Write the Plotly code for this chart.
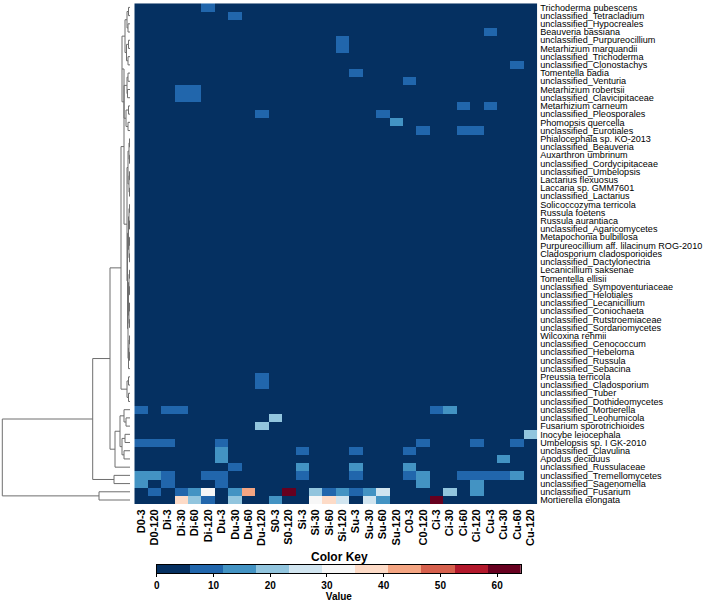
import plotly.graph_objects as go

# ---------------- data ----------------
taxa = [
    "Trichoderma pubescens", "unclassified_Tetracladium", "unclassified_Hypocreales",
    "Beauveria bassiana", "unclassified_Purpureocillium", "Metarhizium marquandii",
    "unclassified_Trichoderma", "unclassified_Clonostachys", "Tomentella badia",
    "unclassified_Venturia", "Metarhizium robertsii", "unclassified_Clavicipitaceae",
    "Metarhizium carneum", "unclassified_Pleosporales", "Phomopsis quercella",
    "unclassified_Eurotiales", "Phialocephala sp. KO-2013", "unclassified_Beauveria",
    "Auxarthron umbrinum", "unclassified_Cordycipitaceae", "unclassified_Umbelopsis",
    "Lactarius flexuosus", "Laccaria sp. GMM7601", "unclassified_Lactarius",
    "Solicoccozyma terricola", "Russula foetens", "Russula aurantiaca",
    "unclassified_Agaricomycetes", "Metapochonia bulbillosa",
    "Purpureocillium aff. lilacinum ROG-2010", "Cladosporium cladosporioides",
    "unclassified_Dactylonectria", "Lecanicillium saksenae", "Tomentella ellisii",
    "unclassified_Sympoventuriaceae", "unclassified_Helotiales", "unclassified_Lecanicillium",
    "unclassified_Coniochaeta", "unclassified_Rutstroemiaceae", "unclassified_Sordariomycetes",
    "Wilcoxina rehmii", "unclassified_Cenococcum", "unclassified_Hebeloma",
    "unclassified_Russula", "unclassified_Sebacina", "Preussia terricola",
    "unclassified_Cladosporium", "unclassified_Tuber", "unclassified_Dothideomycetes",
    "unclassified_Mortierella", "unclassified_Leohumicola", "Fusarium sporotrichioides",
    "Inocybe leiocephala", "Umbelopsis sp. I GK-2010", "unclassified_Clavulina",
    "Apodus deciduus", "unclassified_Russulaceae", "unclassified_Tremellomycetes",
    "unclassified_Sagenomella", "unclassified_Fusarium", "Mortierella elongata",
]

samples = [
    "D0-3", "D0-120", "Di-3", "Di-30", "Di-60", "Di-120", "Du-3", "Du-30", "Du-60", "Du-120",
    "S0-3", "S0-120", "Si-3", "Si-30", "Si-60", "Si-120", "Su-3", "Su-30", "Su-60", "Su-120",
    "C0-3", "C0-120", "Ci-3", "Ci-30", "Ci-60", "Ci-120", "Cu-3", "Cu-30", "Cu-60", "Cu-120",
]

# non-zero cells (taxon, sample, value); all other cells are ~0
cells = [
    ("Trichoderma pubescens", "Di-120", 9),
    ("unclassified_Tetracladium", "Du-30", 9),
    ("Beauveria bassiana", "Cu-3", 9),
    ("unclassified_Purpureocillium", "Si-120", 9),
    ("Metarhizium marquandii", "Si-120", 9),
    ("unclassified_Clonostachys", "Cu-60", 9),
    ("Tomentella badia", "Su-3", 9),
    ("unclassified_Venturia", "C0-3", 9),
    ("Metarhizium robertsii", "Di-30", 9), ("Metarhizium robertsii", "Di-60", 9),
    ("unclassified_Clavicipitaceae", "Di-30", 9), ("unclassified_Clavicipitaceae", "Di-60", 9),
    ("Metarhizium carneum", "Ci-60", 9), ("Metarhizium carneum", "Cu-3", 9),
    ("unclassified_Pleosporales", "Du-120", 9), ("unclassified_Pleosporales", "Su-60", 9),
    ("Phomopsis quercella", "Su-120", 14),
    ("unclassified_Eurotiales", "C0-120", 9), ("unclassified_Eurotiales", "Ci-60", 9),
    ("unclassified_Eurotiales", "Ci-120", 9),
    ("Preussia terricola", "Du-120", 9),
    ("unclassified_Cladosporium", "Du-120", 9),
    ("unclassified_Mortierella", "D0-3", 9), ("unclassified_Mortierella", "Di-3", 9),
    ("unclassified_Mortierella", "Di-30", 9), ("unclassified_Mortierella", "Ci-3", 9),
    ("unclassified_Mortierella", "Ci-30", 14),
    ("unclassified_Leohumicola", "S0-3", 20),
    ("Fusarium sporotrichioides", "Du-120", 20),
    ("Inocybe leiocephala", "Cu-120", 20),
    ("Umbelopsis sp. I GK-2010", "D0-3", 9), ("Umbelopsis sp. I GK-2010", "D0-120", 9),
    ("Umbelopsis sp. I GK-2010", "Di-3", 9), ("Umbelopsis sp. I GK-2010", "Du-3", 9),
    ("Umbelopsis sp. I GK-2010", "C0-120", 9), ("Umbelopsis sp. I GK-2010", "Ci-120", 9),
    ("Umbelopsis sp. I GK-2010", "Cu-60", 9),
    ("unclassified_Clavulina", "Du-3", 15), ("unclassified_Clavulina", "Si-3", 9),
    ("unclassified_Clavulina", "Su-3", 9), ("unclassified_Clavulina", "C0-3", 9),
    ("Apodus deciduus", "Du-3", 15), ("Apodus deciduus", "Cu-30", 15),
    ("unclassified_Russulaceae", "Du-30", 9), ("unclassified_Russulaceae", "Si-3", 15),
    ("unclassified_Russulaceae", "Su-3", 15), ("unclassified_Russulaceae", "C0-3", 15),
    ("unclassified_Tremellomycetes", "D0-3", 15), ("unclassified_Tremellomycetes", "D0-120", 15),
    ("unclassified_Tremellomycetes", "Di-3", 9), ("unclassified_Tremellomycetes", "Di-120", 9),
    ("unclassified_Tremellomycetes", "Du-3", 9), ("unclassified_Tremellomycetes", "Si-3", 9),
    ("unclassified_Tremellomycetes", "Su-3", 9), ("unclassified_Tremellomycetes", "C0-3", 9),
    ("unclassified_Tremellomycetes", "C0-120", 15), ("unclassified_Tremellomycetes", "Ci-60", 9),
    ("unclassified_Tremellomycetes", "Ci-120", 9), ("unclassified_Tremellomycetes", "Cu-3", 9),
    ("unclassified_Tremellomycetes", "Cu-30", 9), ("unclassified_Tremellomycetes", "Cu-60", 15),
    ("unclassified_Sagenomella", "D0-3", 15), ("unclassified_Sagenomella", "Di-3", 9),
    ("unclassified_Sagenomella", "Du-3", 9), ("unclassified_Sagenomella", "C0-120", 15),
    ("unclassified_Sagenomella", "Ci-120", 15),
    ("unclassified_Fusarium", "D0-120", 9), ("unclassified_Fusarium", "Di-30", 9),
    ("unclassified_Fusarium", "Di-60", 15), ("unclassified_Fusarium", "Di-120", 32),
    ("unclassified_Fusarium", "Du-30", 15), ("unclassified_Fusarium", "Du-60", 44),
    ("unclassified_Fusarium", "S0-120", 63), ("unclassified_Fusarium", "Si-30", 20),
    ("unclassified_Fusarium", "Si-60", 9), ("unclassified_Fusarium", "Si-120", 15),
    ("unclassified_Fusarium", "Su-3", 9), ("unclassified_Fusarium", "Su-30", 15),
    ("unclassified_Fusarium", "Su-60", 26), ("unclassified_Fusarium", "Ci-30", 20),
    ("unclassified_Fusarium", "Ci-120", 15),
    ("Mortierella elongata", "Di-30", 38), ("Mortierella elongata", "Di-60", 20),
    ("Mortierella elongata", "Di-120", 9), ("Mortierella elongata", "Du-30", 20),
    ("Mortierella elongata", "S0-3", 15), ("Mortierella elongata", "Si-30", 32),
    ("Mortierella elongata", "Si-60", 38), ("Mortierella elongata", "Si-120", 26),
    ("Mortierella elongata", "Su-30", 26), ("Mortierella elongata", "Su-60", 15),
    ("Mortierella elongata", "Ci-3", 64.2),
]

# row dendrogram: [height, left, right]; leaves are row indices (0 = top row)
T1 = [8, [5, [3, [1.5, 0, 1], [2, 2, 3]], [3.5, [1.5, 4, 5], [2, 6, 7]]],
         [6, [3, [2, 8, 9], [2.5, 10, 11]], [4, [1.5, 12, 13], [2, 14, 15]]]]
T2 = [3,
      [2, [1, [0.5, 16, 17], [0.5, 18, 19]], [1, [0.5, 20, 21], [0.5, 22, 23]]],
      [2.5, [1.5, [1, [0.5, 24, 25], [0.5, 26, 27]], [1, [0.5, 28, 29], [0.5, 30, 31]]],
            [2, [1.5, [1, [0.5, 32, 33], [0.5, 34, 35]], [1, [0.5, 36, 37], [0.5, 38, 39]]],
                [1.5, [1, [0.5, 40, 41], [0.5, 42, 43]], 44]]]]
T3 = [3, [1.5, 45, 46], [1.5, 47, 48]]
M = [15, [10, [6, 49, [4, 50, 51]], [8, [5, 52, 53], [6, 54, 55]]], 56]
row_dendrogram = [127.7, [37.3, [20, [9, [6, T1, T2], T3], M], [16, 57, 58]], [31, 59, 60]]

key_ticks = [0, 10, 20, 30, 40, 50, 60]
palette = ["#053061", "#2166ac", "#4393c3", "#92c5de", "#d1e5f0", "#f7f7f7",
           "#fddbc7", "#f4a582", "#d6604d", "#b2182b", "#67001f"]
zmin, zmax = 0, 64.2

# ---------------- build ----------------
W, H = 708, 607
hm_x0, hm_x1, hm_y0, hm_y1 = 134.3, 537.2, 3.3, 504.1   # pixel box of heatmap

z = [[0] * len(samples) for _ in taxa]
for t, s, v in cells:
    z[taxa.index(t)][samples.index(s)] = v

n = len(palette)
colorscale = []
for i, c in enumerate(palette):
    colorscale.append([i / n, c])
    colorscale.append([(i + 1) / n, c])

fig = go.Figure()
fig.add_trace(go.Heatmap(
    z=z, x=list(range(len(samples))), y=list(range(len(taxa))),
    colorscale=colorscale, zmin=zmin, zmax=zmax, showscale=False,
    xaxis="x", yaxis="y", hoverongaps=False))

# dendrogram lines
xs, ys = [], []
def walk(node):
    if isinstance(node, int):
        return 0.0, float(node)
    h, a, b = node
    ha, ya = walk(a)
    hb, yb = walk(b)
    xs.extend([ha, h, h, hb, None])
    ys.extend([ya, ya, yb, yb, None])
    return h, (ya + yb) / 2
walk(row_dendrogram)
fig.add_trace(go.Scatter(x=xs, y=ys, mode="lines", xaxis="x2", yaxis="y",
                         line=dict(color="#6e6e6e", width=1), hoverinfo="skip",
                         showlegend=False))

# color key
edges = [zmin + i * (zmax - zmin) / n for i in range(n + 1)]
mids = [(edges[i] + edges[i + 1]) / 2 for i in range(n)]
fig.add_trace(go.Heatmap(z=[mids], x=edges, y=[0, 1], colorscale=colorscale,
                         zmin=zmin, zmax=zmax, showscale=False,
                         xaxis="x3", yaxis="y3", hoverinfo="skip"))

def px(x):
    return x / W
def py(y):
    return 1 - y / H

font = "Arial, Liberation Sans, sans-serif"
fig.update_layout(
    width=W, height=H, margin=dict(l=0, r=0, t=0, b=0),
    paper_bgcolor="white", plot_bgcolor="white", showlegend=False,
    font=dict(family=font, color="black"),
    xaxis=dict(domain=[px(hm_x0), px(hm_x1)], anchor="y", range=[-0.5, len(samples) - 0.5],
               tickvals=list(range(len(samples))), ticktext=[f"<b>{s}</b>" for s in samples],
               tickangle=-90, tickfont=dict(size=11, family=font), ticks="",
               showgrid=False, zeroline=False, automargin=False, ticklabelstandoff=2),
    yaxis=dict(domain=[py(hm_y1), py(hm_y0)], anchor="x", side="right",
               range=[len(taxa) - 0.5, -0.5],
               tickvals=list(range(len(taxa))), ticktext=taxa,
               tickfont=dict(size=9.1, family=font), ticks="",
               showgrid=False, zeroline=False, automargin=False, ticklabelstandoff=2),
    xaxis2=dict(domain=[0, px(hm_x0)], anchor="y", range=[130, -4.3],
                showgrid=False, zeroline=False, showticklabels=False, ticks="",
                automargin=False),
    xaxis3=dict(domain=[px(156.7), px(521.0)], anchor="y3", range=[zmin, zmax],
                tickvals=key_ticks, ticktext=[f"<b>{t}</b>" for t in key_ticks],
                ticks="outside", ticklen=3, tickcolor="black",
                tickfont=dict(size=10, family=font),
                showline=True, linecolor="black", linewidth=1, mirror=True,
                showgrid=False, zeroline=False, automargin=False,
                title=dict(text="<b>Value</b>", font=dict(size=10, family=font), standoff=2)),
    yaxis3=dict(domain=[py(573), py(565)], anchor="x3", range=[0, 1],
                showticklabels=False, ticks="", showgrid=False, zeroline=False,
                showline=True, linecolor="black", linewidth=1, mirror=True,
                automargin=False),
    annotations=[dict(text="<b>Color Key</b>", x=px(339), y=py(557), xref="paper",
                      yref="paper", showarrow=False, xanchor="center", yanchor="middle",
                      font=dict(size=12, family=font))],
)

fig.write_html("out.html", config={"displayModeBar": False},
               post_script="document.body.style.margin='0';")
